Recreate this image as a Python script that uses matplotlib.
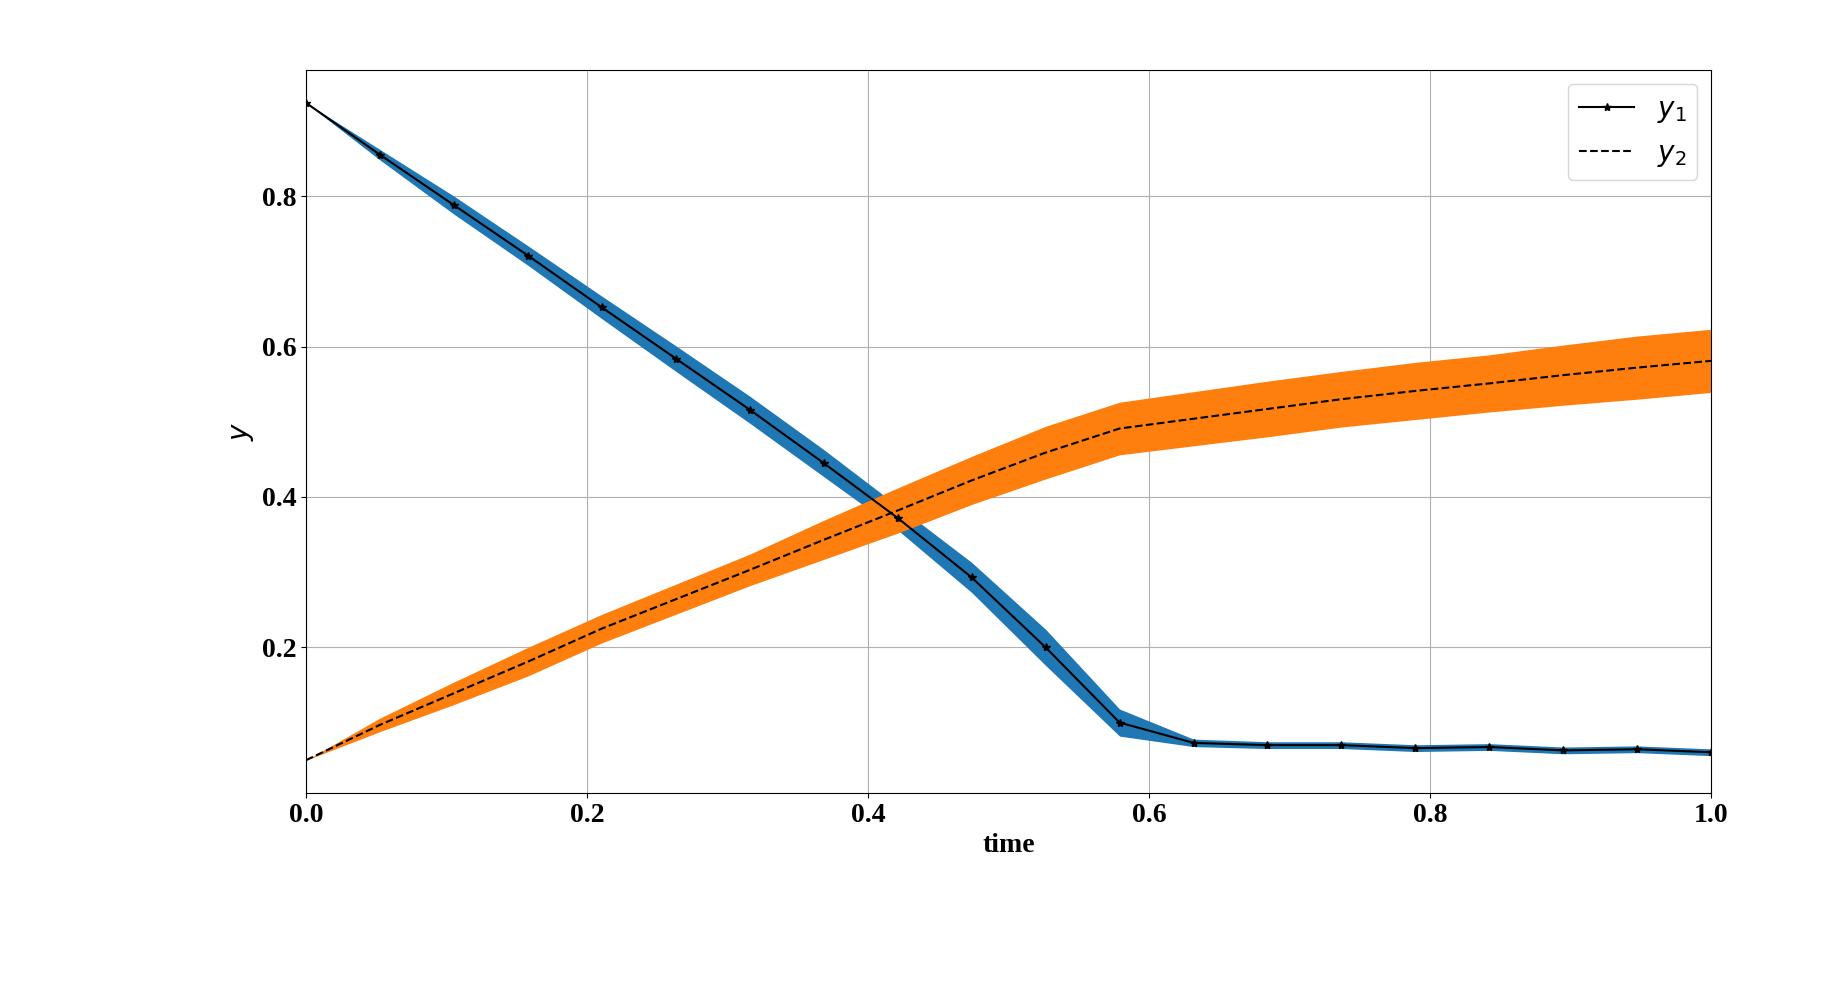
import numpy as np
import matplotlib
matplotlib.use('Agg')
import matplotlib.pyplot as plt

# values (20 time steps)
time = np.linspace(0.0, 1.0, 20)

y1_mean = [0.924, 0.855, 0.788, 0.721, 0.652, 0.584, 0.516, 0.445, 0.372, 0.293,
           0.200, 0.100, 0.073, 0.070, 0.070, 0.066, 0.0675, 0.063, 0.0645, 0.0605]
y1_std = [0.0, 0.007, 0.012, 0.013, 0.015, 0.017, 0.018, 0.018, 0.016, 0.020,
          0.024, 0.018, 0.005, 0.0045, 0.0045, 0.0045, 0.0045, 0.0045, 0.0045, 0.0045]

y2_mean = [0.050, 0.097, 0.139, 0.181, 0.225, 0.264, 0.303, 0.343, 0.382, 0.422,
           0.459, 0.491, 0.504, 0.517, 0.530, 0.541, 0.551, 0.562, 0.572, 0.581]
y2_std = [0.0, 0.009, 0.015, 0.019, 0.019, 0.020, 0.021, 0.026, 0.030, 0.032,
          0.035, 0.035, 0.036, 0.037, 0.037, 0.038, 0.038, 0.040, 0.042, 0.042]

y1_mean = np.array(y1_mean)
y1_std = np.array(y1_std)
y2_mean = np.array(y2_mean)
y2_std = np.array(y2_std)

fig, ax = plt.subplots()
fig.set_size_inches(18.47, 9.86)
fig.subplots_adjust(left=0.1657, right=0.9265, bottom=0.1957, top=0.929)

ax.fill_between(time, y1_mean - y1_std, y1_mean + y1_std, color='#1f77b4', linewidth=0, zorder=1)
ax.fill_between(time, y2_mean - y2_std, y2_mean + y2_std, color='#ff7f0e', linewidth=0, zorder=2)

ax.plot(time, y1_mean, 'k-*', label='$y_1$', zorder=3)
ax.plot(time, y2_mean, 'k--', label='$y_2$', zorder=3)

ax.set_xlim(0, 1)
ax.set_xlabel('time', fontsize=20, fontweight='bold', family='Liberation Serif')
ax.set_ylabel('$y$', fontsize=20)

for lab in ax.get_xticklabels() + ax.get_yticklabels():
    lab.set_fontfamily('Liberation Serif')
    lab.set_fontweight('bold')
    lab.set_fontsize(20)

ax.grid(True)
ax.set_axisbelow(True)
ax.legend(fontsize=20, loc='upper right')

plt.savefig('out.png', dpi=100)
